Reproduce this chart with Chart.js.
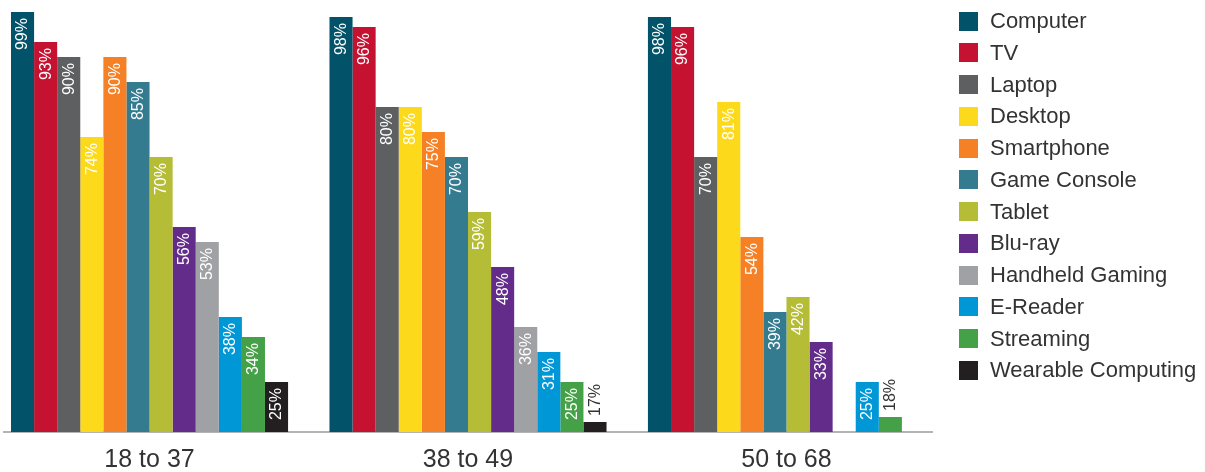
<!DOCTYPE html>
<html><head><meta charset="utf-8">
<script src="https://cdn.jsdelivr.net/npm/chart.js@4/dist/chart.umd.min.js"></script>
<style>html,body{margin:0;padding:0;background:#fff}#wrap{width:1205px;height:472px;position:relative}</style>
</head><body><div id="wrap"><canvas id="c"></canvas></div>
<script>
const categories = ['18 to 37', '38 to 49', '50 to 68'];
const seriesNames = ['Computer', 'TV', 'Laptop', 'Desktop', 'Smartphone', 'Game Console', 'Tablet', 'Blu-ray', 'Handheld Gaming', 'E-Reader', 'Streaming', 'Wearable Computing'];
const seriesColors = ['#02536A', '#C41230', '#5E5F61', '#FCD91B', '#F58025', '#357B90', '#B5BD36', '#642C8A', '#A0A1A5', '#0097D6', '#45A147', '#231F20'];
const computer = [99, 98, 98];
const tv = [93, 96, 96];
const laptop = [90, 80, 70];
const desktop = [74, 80, 81];
const smartphone = [90, 75, 54];
const gameConsole = [85, 70, 39];
const tablet = [70, 59, 42];
const bluRay = [56, 48, 33];
const handheldGaming = [53, 36, null];
const eReader = [38, 31, 25];
const streaming = [34, 25, 18];
const wearableComputing = [25, 17, null];
const seriesValues = [computer, tv, laptop, desktop, smartphone, gameConsole, tablet, bluRay, handheldGaming, eReader, streaming, wearableComputing];

const FONT = '"Liberation Sans", Arial, sans-serif';

const datasets = seriesNames.map((name, s) => ({
  label: name,
  data: seriesValues[s].map((v, i) => ({x: i, y: v})),
  backgroundColor: seriesColors[s],
  borderWidth: 0
}));

const valueLabels = {
  id: 'valueLabels',
  afterDatasetsDraw(chart) {
    const ctx = chart.ctx;
    const bottom = chart.chartArea.bottom;
    ctx.save();
    ctx.font = '16px ' + FONT;
    chart.data.datasets.forEach((ds, di) => {
      const meta = chart.getDatasetMeta(di);
      meta.data.forEach((el, i) => {
        const v = ds.data[i].y;
        if (v === null || v === undefined) return;
        const txt = v + '%';
        const w = ctx.measureText(txt).width;
        const h = Math.min(el.base, bottom) - el.y;
        ctx.save();
        ctx.textBaseline = 'middle';
        if (h >= w + 12) {
          ctx.translate(el.x + 0.5, el.y + 6);
          ctx.rotate(-Math.PI / 2);
          ctx.textAlign = 'right';
          ctx.fillStyle = '#ffffff';
        } else {
          ctx.translate(el.x + 0.5, el.y - 6);
          ctx.rotate(-Math.PI / 2);
          ctx.textAlign = 'left';
          ctx.fillStyle = '#333333';
        }
        ctx.fillText(txt, 0, 0);
        ctx.restore();
      });
    });
    ctx.restore();
  }
};

const sideLegend = {
  id: 'sideLegend',
  afterDraw(chart) {
    const ctx = chart.ctx;
    ctx.save();
    ctx.font = '22px ' + FONT;
    ctx.textBaseline = 'middle';
    ctx.textAlign = 'left';
    chart.data.datasets.forEach((ds, i) => {
      const yc = 21 + i * 31.75;
      ctx.fillStyle = ds.backgroundColor;
      ctx.fillRect(959, Math.round(yc - 9.5), 19, 19);
      ctx.fillStyle = '#333333';
      ctx.fillText(ds.label, 990, yc + 1);
    });
    ctx.restore();
  }
};

new Chart(document.getElementById('c'), {
  type: 'bar',
  data: { datasets },
  options: {
    responsive: true,
    maintainAspectRatio: false,
    animation: false,
    devicePixelRatio: 1,
    layout: { padding: { left: 4, right: 273, top: 7, bottom: 0 } },
    categoryPercentage: 0.87,
    barPercentage: 1,
    plugins: { legend: { display: false }, tooltip: { enabled: false } },
    scales: {
      x: {
        type: 'linear',
        min: -0.457,
        max: 2.457,
        offset: false,
        grid: { display: false, drawTicks: false },
        border: { display: true, color: '#b3b3b3', width: 2 },
        afterFit: (scale) => { scale.height = 40; },
        ticks: {
          stepSize: 1,
          includeBounds: false,
          autoSkip: false,
          maxRotation: 0,
          padding: 13,
          color: '#333333',
          font: { family: FONT, size: 25 },
          callback: (v) => (Number.isInteger(v) && categories[v] !== undefined) ? categories[v] : ''
        }
      },
      y: { display: false, min: 15, max: 100 }
    }
  },
  plugins: [valueLabels, sideLegend]
});
</script>
</body></html>
